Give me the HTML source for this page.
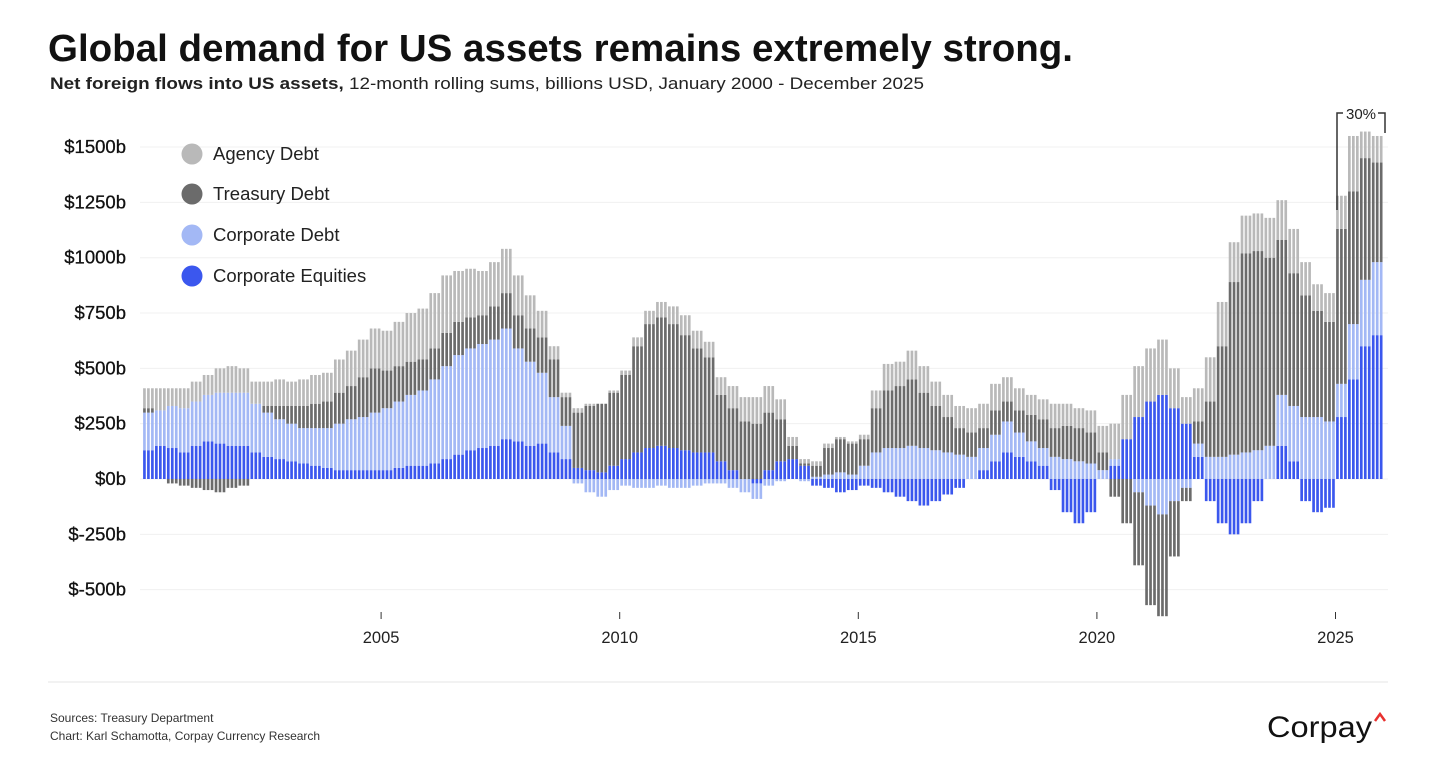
<!DOCTYPE html>
<html><head><meta charset="utf-8">
<style>
body{margin:0;background:#fff;width:1442px;height:776px;overflow:hidden;font-family:"Liberation Sans",sans-serif;}
</style></head>
<body>
<svg id="chart" width="1442" height="776" xmlns="http://www.w3.org/2000/svg" font-family="Liberation Sans, sans-serif">
<text x="48" y="61" font-size="38" font-weight="bold" fill="#111" textLength="1025" lengthAdjust="spacingAndGlyphs">Global demand for US assets remains extremely strong.</text>
<text x="50" y="89" font-size="17" fill="#222" textLength="874" lengthAdjust="spacingAndGlyphs"><tspan font-weight="bold">Net foreign flows into US assets,</tspan> 12-month rolling sums, billions USD, January 2000 - December 2025</text>
<g id="grid"></g><g id="bars"></g><g id="axes"></g>
<g font-size="18.5" fill="#222">
<circle cx="192" cy="154" r="10.5" fill="#b9b9b9"/><text x="213" y="160">Agency Debt</text>
<circle cx="192" cy="194" r="10.5" fill="#6b6b6b"/><text x="213" y="200">Treasury Debt</text>
<circle cx="192" cy="235" r="10.5" fill="#a3b8f5"/><text x="213" y="241">Corporate Debt</text>
<circle cx="192" cy="276" r="10.5" fill="#3b57ee"/><text x="213" y="282">Corporate Equities</text>
</g>
<g stroke="#333" stroke-width="1.5" fill="none">
<path d="M1337 210 V113 H1343"/><path d="M1378 113 H1385 V133"/>
</g>
<text x="1361" y="119" font-size="15" text-anchor="middle" fill="#222">30%</text>
<line x1="48" y1="682" x2="1388" y2="682" stroke="#e6e6e6"/>
<text x="50" y="722" font-size="12" fill="#333">Sources: Treasury Department</text>
<text x="50" y="740" font-size="12" fill="#333">Chart: Karl Schamotta, Corpay Currency Research</text>
<text x="1267" y="737" font-size="30" fill="#111" textLength="105" lengthAdjust="spacingAndGlyphs">Corpay</text>
<path d="M1375 721 L1380 714 L1385 721" stroke="#e8312f" stroke-width="2.5" fill="none"/>
</svg>
<script>
const startYear = 2000;
const yTicks = [1500,1250,1000,750,500,250,0,-250,-500];
const xTicks = [2005,2010,2015,2020,2025];
// quarterly values, 2000Q1..2025Q4 (billions USD)
const equities = [130,150,140,120, 150,170,160,150, 150,120,100,90, 80,70,60,50, 40,40,40,40, 40,50,60,60, 70,90,110,130, 140,150,180,170, 150,160,120,90, 50,40,30,60, 90,120,140,150, 140,130,120,120, 80,40,0,-20, 40,80,90,60, -30,-40,-60,-50, -30,-40,-60,-80, -100,-120,-100,-70, -40,0,40,80, 120,100,80,60, -50,-150,-200,-150, 0,60,180,280, 350,380,320,250, 100,-100,-200,-250, -200,-100,0,150, 80,-100,-150,-130, 280,450,600,650];
const corpDebt = [170,160,190,200, 200,210,230,240, 240,220,200,180, 170,160,170,180, 210,230,240,260, 280,300,320,340, 380,420,450,460, 470,480,500,420, 380,320,250,150, -20,-60,-80,-50, -30,-40,-40,-30, -40,-40,-30,-20, -20,-40,-60,-70, -30,-10,0,-10, 10,20,30,20, 60,120,140,140, 150,140,130,120, 110,100,100,120, 140,110,90,80, 100,90,80,70, 40,30,0,-60, -120,-160,-100,-40, 60,100,100,110, 120,130,150,230, 250,280,280,260, 150,250,300,330];
const treasury = [20,0,-20,-30, -40,-50,-60,-40, -30,0,30,60, 80,100,110,120, 140,150,180,200, 170,160,150,140, 140,150,150,140, 130,150,160,150, 150,160,170,130, 250,290,310,330, 380,480,560,580, 560,520,470,430, 300,280,260,250, 260,190,60,10, 50,120,150,140, 120,200,260,280, 300,250,200,160, 120,110,90,110, 90,100,120,130, 130,150,150,140, 80,-80,-200,-330, -450,-460,-250,-60, 100,250,500,780, 900,900,850,700, 600,550,480,450, 700,600,550,450];
const agency = [90,100,80,90, 90,90,110,120, 110,100,110,120, 110,120,130,130, 150,160,170,180, 180,200,220,230, 250,260,230,220, 200,200,200,180, 150,120,60,20, 20,10,0,10, 20,40,60,70, 80,90,80,70, 80,100,110,120, 120,90,40,20, 20,20,10,10, 20,80,120,110, 130,120,110,100, 100,110,110,120, 110,100,90,90, 110,100,90,100, 120,160,200,230, 240,250,180,120, 150,200,200,180, 170,170,180,180, 200,150,120,130, 150,250,120,120];

const NS='http://www.w3.org/2000/svg';
const x0=142.5, pxPerYear=47.72, y0=479, pxPerB=0.2213;
const xScale=t=>x0+(t-startYear)*pxPerYear;
const yScale=v=>y0-v*pxPerB;
const grid=document.getElementById('grid'), axes=document.getElementById('axes'), bars=document.getElementById('bars');
function mk(tag,attrs,parent){const e=document.createElementNS(NS,tag);for(const k in attrs)e.setAttribute(k,attrs[k]);parent.appendChild(e);return e;}
yTicks.forEach(v=>{
  const g=mk('line',{x1:140,x2:1388,y1:yScale(v),y2:yScale(v),stroke:'#f0f0f0'},grid);
  
  
  const t=mk('text',{x:126,y:yScale(v)+6,'font-size':18.5,'text-anchor':'end',fill:'#111','stroke':'#111','stroke-width':0.3},axes);
  t.textContent='$'+v+'b';
  
  
});
xTicks.forEach(yr=>{
  const l=mk('line',{x1:xScale(yr),x2:xScale(yr),y1:612,y2:619,stroke:'#333'},axes);
  
  
  const t=mk('text',{x:xScale(yr),y:643,'font-size':16.5,'text-anchor':'middle',fill:'#222'},axes);
  t.textContent=yr;
  
  
});
const series=[[equities,'#3b57ee','equities'],[corpDebt,'#a3b8f5','corp-debt'],[treasury,'#6b6b6b','treasury'],[agency,'#b9b9b9','agency']];
const mPx=pxPerYear/12;
for(let q=0;q<equities.length;q++){
  for(let m=0;m<3;m++){
    const t=startYear+q*0.25+m/12;
    const bx=xScale(t)+0.6;
    let pos=0,neg=0;
    series.forEach(([arr,col,nm])=>{
      const v=arr[q]; let top,bot;
      if(v>=0){bot=pos;top=pos+v;pos=top;}else{top=neg;bot=neg+v;neg=bot;}
      const r=mk('rect',{x:bx,width:mPx-1.3,y:yScale(top),height:Math.max(0,yScale(bot)-yScale(top)),fill:col},bars);
      
      
    });
  }
}
</script>
</body></html>
